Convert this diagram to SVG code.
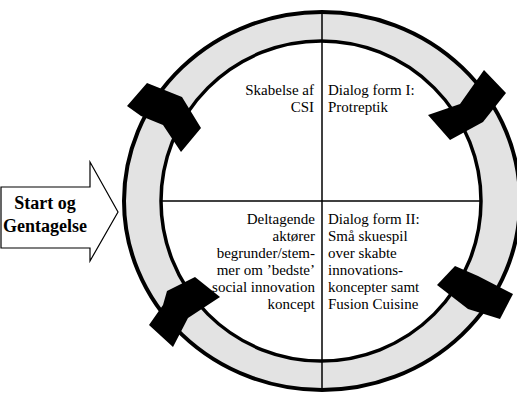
<svg xmlns="http://www.w3.org/2000/svg" width="517" height="396" viewBox="0 0 517 396">
<style>
.t{font-family:"Liberation Serif","Times New Roman",serif;font-size:15px;fill:#000}
.r{text-anchor:end}
.b{font-family:"Liberation Serif","Times New Roman",serif;font-size:18px;font-weight:bold;text-anchor:middle}
.blk{fill:#000;stroke:none}
.ln{stroke:#000;stroke-width:1.5;fill:none}
</style>
<rect width="517" height="396" fill="#fff"/>
<g id="ring">
<ellipse cx="322" cy="201" rx="198" ry="189" fill="#e3e3e3" stroke="#000" stroke-width="4"/>
<circle cx="321" cy="201" r="160" fill="#fff" stroke="#000" stroke-width="3.5"/>
</g>
<g id="connectors">
<line class="ln" x1="322" y1="13" x2="322" y2="390"/>
<line class="ln" x1="161" y1="201" x2="481" y2="201"/>
</g>
<g id="q1">
<text class="t r" x="314" y="95">Skabelse af</text>
<text class="t r" x="314" y="112">CSI</text>
</g>
<g id="q2">
<text class="t" x="328" y="95">Dialog form I:</text>
<text class="t" x="328" y="112">Protreptik</text>
</g>
<g id="q3">
<text class="t r" x="315" y="224">Deltagende</text>
<text class="t r" x="315" y="241">aktører</text>
<text class="t r" x="315" y="258">begrunder/stem-</text>
<text class="t r" x="315" y="275">mer om ’bedste’</text>
<text class="t r" x="315" y="292">social innovation</text>
<text class="t r" x="315" y="309">koncept</text>
</g>
<g id="q4">
<text class="t" x="328" y="224">Dialog form II:</text>
<text class="t" x="328" y="241">Små skuespil</text>
<text class="t" x="328" y="258">over skabte</text>
<text class="t" x="328" y="275">innovations-</text>
<text class="t" x="328" y="292">koncepter samt</text>
<text class="t" x="328" y="309">Fusion Cuisine</text>
</g>
<g id="bars">
<polygon class="blk" points="127,106 147,83 182,97 201,128 181,152 163,125 141,116"/>
<polygon class="blk" points="428,115 460,104 484,70 506,93 483,122 450,140"/>
<polygon class="blk" points="437,285 455,266 478,276 513,294 500,319 468,309"/>
<polygon class="blk" points="163,305 167,291 195,277 220,297 188,318 173,347 149,325"/>
</g>
<g id="start">
<polygon points="1,187 90,187 90,162 118,212 90,261 90,248 1,248" fill="#fff" stroke="#000" stroke-width="1.2"/>
<text class="b" x="45" y="209">Start og</text>
<text class="b" x="45" y="232">Gentagelse</text>
</g>
</svg>
